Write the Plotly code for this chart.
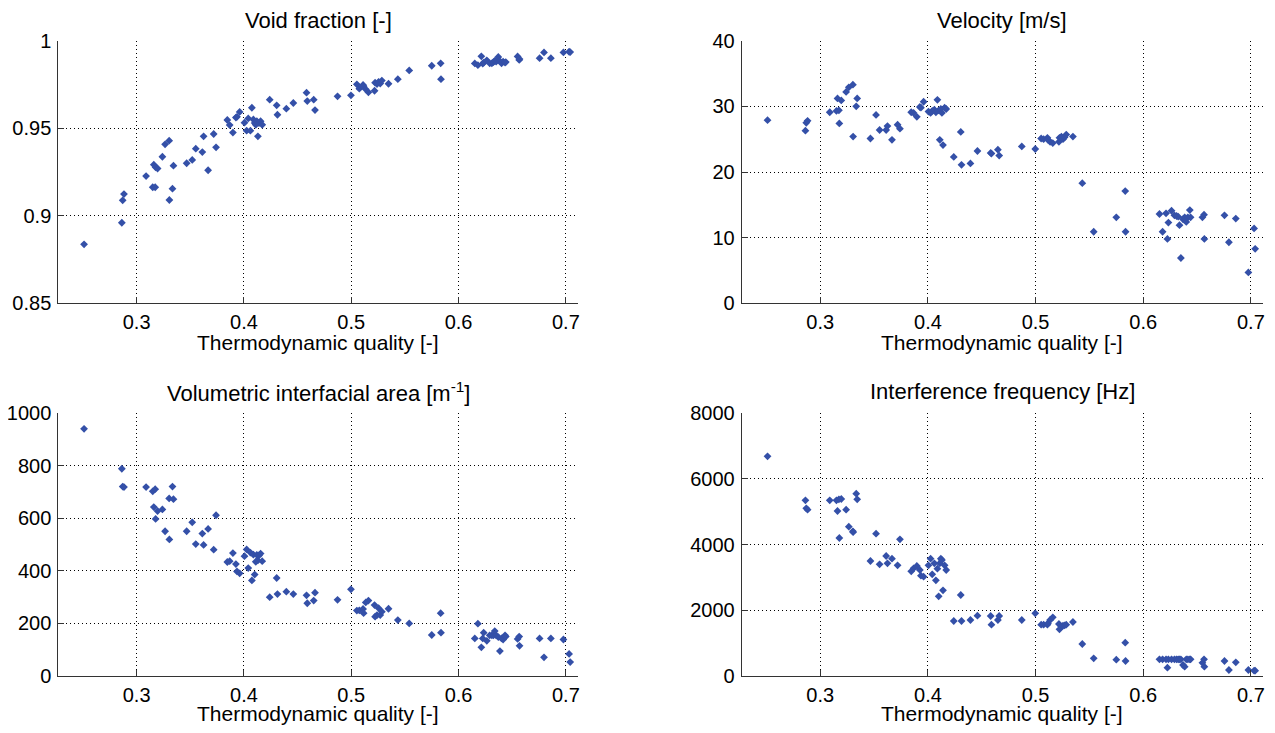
import plotly.graph_objects as go

# ---- data ----
quality = [
    0.2510, 0.2862, 0.2870, 0.2882, 0.3088,
    0.3150, 0.3160, 0.3173, 0.3177, 0.3195, 0.3240, 0.3265, 0.3303, 0.3305, 0.3334, 0.3343,
    0.3466, 0.3518, 0.3551, 0.3612, 0.3624, 0.3666, 0.3718, 0.3740,
    0.3845, 0.3867, 0.3897, 0.3925, 0.3935, 0.3960,
    0.4005, 0.4025, 0.4040, 0.4060, 0.4074, 0.4088, 0.4100, 0.4110, 0.4120, 0.4130, 0.4140, 0.4155, 0.4170,
    0.4240, 0.4305, 0.4312, 0.4395, 0.4460, 0.4583, 0.4590, 0.4650, 0.4662, 0.4872, 0.4997,
    0.5052, 0.5075, 0.5110, 0.5115, 0.5135, 0.5160,
    0.5217, 0.5222, 0.5240, 0.5255, 0.5270, 0.5285,
    0.5347, 0.5434, 0.5540, 0.5750, 0.5833, 0.5836,
    0.6151, 0.6180, 0.6212, 0.6225, 0.6234, 0.6263, 0.6290, 0.6310, 0.6325, 0.6337, 0.6350,
    0.6370, 0.6385, 0.6400, 0.6415, 0.6433, 0.6440,
    0.6550, 0.6565, 0.6568,
    0.6755, 0.6796, 0.6860, 0.6977, 0.7030, 0.7040,
]

void_fraction = [
    0.8837, 0.8960, 0.9088, 0.9124, 0.9227,
    0.9163, 0.9292, 0.9163, 0.9277, 0.9270, 0.9337, 0.9408, 0.9429, 0.9090, 0.9155, 0.9286,
    0.9300, 0.9319, 0.9383, 0.9364, 0.9454, 0.9260, 0.9467, 0.9391,
    0.9547, 0.9518, 0.9475, 0.9561, 0.9565, 0.9593,
    0.9532, 0.9486, 0.9556, 0.9486, 0.9617, 0.9550, 0.9530, 0.9520, 0.9540, 0.9454, 0.9530, 0.9540, 0.9520,
    0.9663, 0.9631, 0.9577, 0.9612, 0.9644, 0.9703, 0.9655, 0.9663, 0.9604, 0.9682, 0.9688,
    0.9751, 0.9726, 0.9747, 0.9740, 0.9722, 0.9705,
    0.9714, 0.9760, 0.9752, 0.9765, 0.9755, 0.9772,
    0.9754, 0.9780, 0.9830, 0.9857, 0.9871, 0.9780,
    0.9870, 0.9860, 0.9911, 0.9869, 0.9875, 0.9888, 0.9871, 0.9871, 0.9878, 0.9885, 0.9880,
    0.9907, 0.9883, 0.9871, 0.9880, 0.9875, 0.9878,
    0.9910, 0.9890, 0.9895,
    0.9900, 0.9933, 0.9900, 0.9933, 0.9937, 0.9935,
]

velocity = [
    27.9, 26.3, 27.5, 27.8, 29.1,
    29.3, 31.2, 29.4, 27.4, 30.9, 32.2, 32.9, 33.3, 25.4, 30.0, 31.2,
    25.1, 28.7, 26.4, 26.4, 27.0, 24.9, 27.2, 26.6,
    29.1, 29.0, 28.4, 29.9, 29.8, 30.7,
    29.2, 29.0, 29.3, 29.5, 29.1, 31.0, 29.4, 24.9, 29.6, 29.0, 24.1, 29.8, 29.6,
    22.3, 26.1, 21.1, 21.3, 23.2, 22.9, 22.8, 23.4, 22.5, 23.9, 23.5,
    25.1, 25.0, 25.2, 24.9, 24.6, 24.4,
    24.6, 25.2, 25.4, 25.0, 25.3, 25.7,
    25.4, 18.3, 10.9, 13.1, 17.1, 10.9,
    13.6, 10.9, 13.7, 9.8, 12.3, 14.1, 13.4, 13.3, 13.2, 11.9, 6.9,
    12.8, 13.1, 12.4, 13.1, 14.2, 13.1,
    13.1, 13.5, 9.8,
    13.4, 9.3, 12.9, 4.7, 11.4, 8.3,
]

interfacial_area = [
    941, 789, 721, 719, 719,
    703, 643, 711, 598, 628, 634, 551, 676, 520, 721, 673,
    551, 585, 502, 542, 499, 560, 481, 612,
    434, 437, 468, 426, 398, 391,
    456, 482, 411, 470, 364, 462, 386, 435, 461, 440, 459, 466, 437,
    300, 373, 312, 321, 312, 307, 277, 287, 317, 290, 330,
    249, 250, 255, 239, 280, 287,
    270, 226, 232, 258, 232, 245,
    256, 213, 200, 156, 239, 165,
    143, 199, 109, 143, 165, 134, 155, 155, 155, 171, 155,
    148, 95, 143, 139, 155, 150,
    141, 150, 115,
    143, 71, 143, 139, 84, 53,
]

frequency = [
    6690, 5350, 5107, 5064, 5350,
    5350, 5025, 5380, 4202, 5390, 5064, 4547, 4406, 4380, 5552, 5380,
    3502, 4334, 3401, 3654, 3432, 3573, 3371, 4163,
    3188, 3280, 3350, 3230, 3054, 3024,
    3371, 3573, 3097, 3432, 2914, 3268, 2427, 3432, 3573, 3533, 2610, 3371, 3228,
    1675, 2467, 1675, 1705, 1837, 1827, 1563, 1705, 1827, 1705, 1908,
    1563, 1563, 1563, 1604, 1705, 1786,
    1584, 1421, 1502, 1533, 1540, 1563,
    1644, 974, 538, 497, 1015, 457,
    508, 508, 508, 254, 508, 508, 508, 508, 508, 508, 508,
    335, 284, 508, 508, 508, 508,
    400, 508, 284,
    457, 183, 416, 183, 162, 162,
]

titles = ["Void fraction [-]", "Velocity [m/s]",
          "Volumetric interfacial area [m<sup>-1</sup>]", "Interference frequency [Hz]"]
xlabel = "Thermodynamic quality [-]"
x_ticks = [0.3, 0.4, 0.5, 0.6, 0.7]
x_range = [0.227, 0.711]
y_ranges = [[0.85, 1.0], [0, 40], [0, 1000], [0, 8000]]
y_ticks = [[0.85, 0.9, 0.95, 1.0], [0, 10, 20, 30, 40],
           [0, 200, 400, 600, 800, 1000], [0, 2000, 4000, 6000, 8000]]
y_ticktext = [["0.85", "0.9", "0.95", "1"], None, None, None]
series = [void_fraction, velocity, interfacial_area, frequency]

# ---- layout geometry (page pixels; the page body has an 8px margin) ----
BODY = 8
PAGE_W, PAGE_H = 1275, 733
W, H = PAGE_W - 2 * BODY, PAGE_H - 2 * BODY
col_px = [(58.3, 577.7), (741.7, 1262.7)]
row_px = [(40.7, 303.3), (413.3, 676.0)]


def px_x(p):
    return (p - BODY) / W


def px_y(p):
    return 1 - (p - BODY) / H


FONT = "Liberation Sans, Arial, Helvetica, sans-serif"
MARK = "#3450a8"

fig = go.Figure()
layout = dict(template="none", width=W, height=H,
              margin=dict(l=0, r=0, t=0, b=0, pad=0, autoexpand=False),
              paper_bgcolor="white", plot_bgcolor="white", showlegend=False,
              font=dict(family=FONT, color="black", size=20))
annotations = []

for i in range(4):
    r, c = divmod(i, 2)
    xa = "x" if i == 0 else f"x{i+1}"
    ya = "y" if i == 0 else f"y{i+1}"
    fig.add_trace(go.Scatter(
        x=quality, y=series[i], mode="markers", xaxis=xa, yaxis=ya,
        marker=dict(symbol="diamond", size=6, color=MARK, line=dict(width=0)),
        cliponaxis=False,
    ))
    x0, x1 = col_px[c]
    y0, y1 = row_px[r]
    xdom = [px_x(x0), px_x(x1)]
    ydom = [px_y(y1), px_y(y0)]
    common = dict(showgrid=True, gridcolor="black", gridwidth=1, griddash="1px,3px",
                  showline=True, linecolor="#333333", linewidth=1, mirror=False,
                  ticks="inside", ticklen=6, tickcolor="#333333", zeroline=False,
                  automargin=False,
                  tickfont=dict(family=FONT, size=20, color="black"))
    layout["xaxis" if i == 0 else f"xaxis{i+1}"] = dict(
        domain=xdom, anchor=ya, range=x_range, tickmode="array", tickvals=x_ticks,
        ticktext=[f"{v:.1f}" for v in x_ticks], ticklabelstandoff=1, **common)
    yax = dict(domain=ydom, anchor=xa, range=y_ranges[i], tickmode="array",
               tickvals=y_ticks[i], ticklabelstandoff=2, **common)
    if y_ticktext[i]:
        yax["ticktext"] = y_ticktext[i]
    layout["yaxis" if i == 0 else f"yaxis{i+1}"] = yax

    cx = px_x((x0 + x1) / 2)
    title_y = [20, 392][r]
    label_y = [342, 713][r]
    annotations.append(dict(text=titles[i], x=cx, y=px_y(title_y), xref="paper", yref="paper",
                            showarrow=False, xanchor="center", yanchor="middle",
                            font=dict(family=FONT, size=22, color="black")))
    annotations.append(dict(text=xlabel, x=cx, y=px_y(label_y), xref="paper", yref="paper",
                            showarrow=False, xanchor="center", yanchor="middle",
                            font=dict(family=FONT, size=21, color="black")))

layout["annotations"] = annotations
fig.update_layout(**layout)
fig.write_html("out.html")
